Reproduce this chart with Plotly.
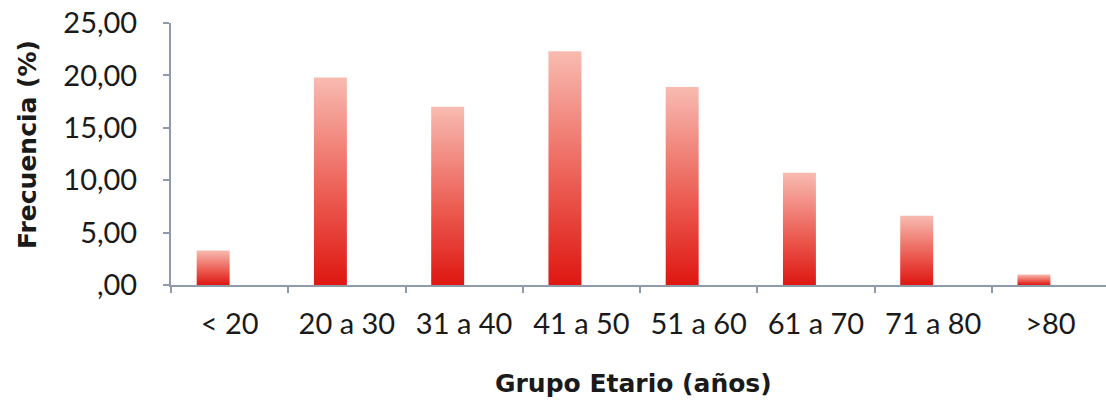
import plotly.graph_objects as go

categories = ["< 20", "20 a 30", "31 a 40", "41 a 50", "51 a 60", "61 a 70", "71 a 80", ">80"]
frecuencia = [3.3, 19.8, 17.0, 22.3, 18.9, 10.7, 6.6, 1.0]
y_tick_values = [0, 5, 10, 15, 20, 25]
y_tick_labels = [",00", "5,00", "10,00", "15,00", "20,00", "25,00"]

BAR_W = 0.281
FONT = "Lato"
TITLE_FONT = "DejaVu Sans"
AXIS_COLOR = "#8f9aab"
GRAD = [[0, "#de1711"], [0.45, "#ec5f55"], [1, "#f8bbb1"]]

fig = go.Figure()
for i, v in enumerate(frecuencia):
    x0, x1 = i - BAR_W, i
    fig.add_trace(go.Scatter(
        x=[x0, x0, x1, x1, x0],
        y=[0, v, v, 0, 0],
        mode="none",
        fill="toself",
        fillgradient=dict(type="vertical", colorscale=GRAD, start=0, stop=v),
        name=categories[i],
        showlegend=False,
        hoverinfo="text",
        text=f"{categories[i]}: {v:.2f}",
    ))

fig.update_layout(
    width=1106, height=406,
    margin=dict(l=171, r=0, t=23, b=121),
    paper_bgcolor="white", plot_bgcolor="white",
    font=dict(family=FONT, color="#1a1a1a"),
    showlegend=False,
    xaxis=dict(
        range=[-0.5, 7.474],
        tickmode="array",
        tickvals=list(range(len(categories))),
        ticktext=categories,
        ticks="",
        showline=True, linecolor=AXIS_COLOR, linewidth=2,
        showgrid=False, zeroline=False,
        tickfont=dict(size=29, family=FONT, color="#1a1a1a"),
        ticklabelstandoff=12,
        minor=dict(tickmode="linear", tick0=-0.5, dtick=1, ticks="outside",
                   ticklen=6, tickwidth=1.5, tickcolor=AXIS_COLOR, showgrid=False),
    ),
    yaxis=dict(
        range=[0, 25],
        tickmode="array",
        tickvals=y_tick_values,
        ticktext=y_tick_labels,
        ticks="outside", ticklen=6, tickwidth=1.5, tickcolor=AXIS_COLOR,
        showline=True, linecolor=AXIS_COLOR, linewidth=2,
        showgrid=False, zeroline=False,
        tickfont=dict(size=29, family=FONT, color="#1a1a1a"),
        ticklabelstandoff=20,
    ),
    annotations=[
        dict(text="<b>Frecuencia (%)</b>", xref="paper", yref="paper",
             x=-171/935 + 27/935, y=(285 - 145) / 262, textangle=-90,
             showarrow=False, xanchor="center", yanchor="middle",
             font=dict(size=25, family=TITLE_FONT, color="#1a1a1a")),
        dict(text="<b>Grupo Etario (años)</b>", xref="paper", yref="paper",
             x=(633 - 171) / 935, y=-(383 - 285) / 262,
             showarrow=False, xanchor="center", yanchor="middle",
             font=dict(size=25, family=TITLE_FONT, color="#1a1a1a")),
    ],
)

fig.write_html("out.html")
